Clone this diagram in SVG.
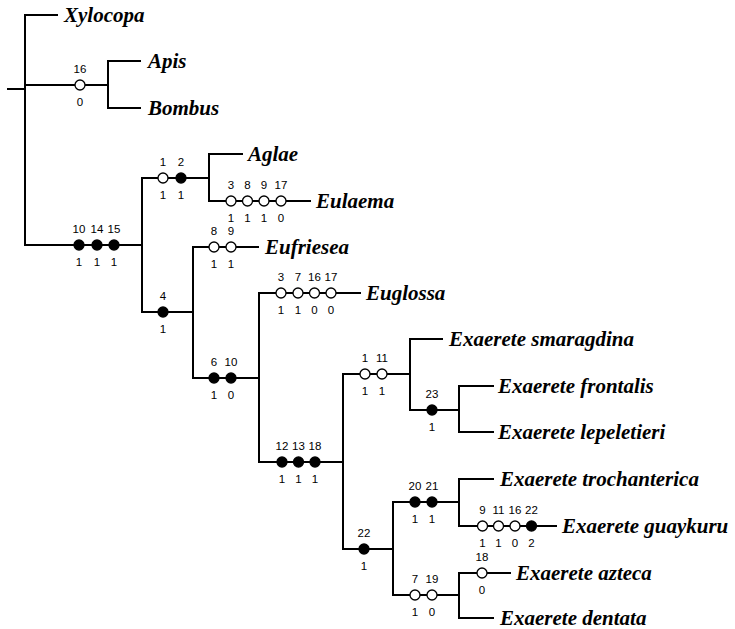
<svg xmlns="http://www.w3.org/2000/svg" width="735" height="629" viewBox="0 0 735 629">
<style>
.sp{font-family:'Liberation Serif','DejaVu Serif',serif;font-weight:700;font-style:italic;font-size:21px;fill:#000}
.n{font-family:'Liberation Sans',Arial,sans-serif;font-size:11.5px;text-anchor:middle;fill:#000}
.o{fill:#fff;stroke:#000;stroke-width:1.3}
.f{fill:#000;stroke:#000;stroke-width:1.3}
#connectors line{stroke:#000;stroke-width:2;stroke-linecap:square}
</style>
<rect width="735" height="629" fill="#fff"/>
<g id="connectors">
<line x1="8" y1="89" x2="25" y2="89"/>
<line x1="25" y1="15" x2="25" y2="245"/>
<line x1="25" y1="15" x2="57" y2="15"/>
<line x1="25" y1="85" x2="108" y2="85"/>
<line x1="108" y1="61" x2="108" y2="108"/>
<line x1="108" y1="61" x2="140" y2="61"/>
<line x1="108" y1="108" x2="140" y2="108"/>
<line x1="25" y1="245" x2="142" y2="245"/>
<line x1="142" y1="178" x2="142" y2="312"/>
<line x1="142" y1="178" x2="209" y2="178"/>
<line x1="209" y1="154" x2="209" y2="201"/>
<line x1="209" y1="154" x2="242" y2="154"/>
<line x1="209" y1="201" x2="310" y2="201"/>
<line x1="142" y1="312" x2="193" y2="312"/>
<line x1="193" y1="247" x2="193" y2="378"/>
<line x1="193" y1="247" x2="258" y2="247"/>
<line x1="193" y1="378" x2="259" y2="378"/>
<line x1="259" y1="293" x2="259" y2="462"/>
<line x1="259" y1="293" x2="360" y2="293"/>
<line x1="259" y1="462" x2="343" y2="462"/>
<line x1="343" y1="374" x2="343" y2="549"/>
<line x1="343" y1="374" x2="410" y2="374"/>
<line x1="410" y1="339" x2="410" y2="410"/>
<line x1="410" y1="339" x2="442" y2="339"/>
<line x1="410" y1="410" x2="459" y2="410"/>
<line x1="459" y1="386" x2="459" y2="432"/>
<line x1="459" y1="386" x2="493" y2="386"/>
<line x1="459" y1="432" x2="493" y2="432"/>
<line x1="343" y1="549" x2="393" y2="549"/>
<line x1="393" y1="502" x2="393" y2="595"/>
<line x1="393" y1="502" x2="459" y2="502"/>
<line x1="459" y1="479" x2="459" y2="526"/>
<line x1="459" y1="479" x2="493" y2="479"/>
<line x1="459" y1="526" x2="556" y2="526"/>
<line x1="393" y1="595" x2="459" y2="595"/>
<line x1="459" y1="573" x2="459" y2="618"/>
<line x1="459" y1="573" x2="510" y2="573"/>
<line x1="459" y1="618" x2="493" y2="618"/>
</g>
<g id="xylocopa"><text class="sp" x="64" y="22">Xylocopa</text></g>
<g id="apis"><text class="sp" x="148" y="68">Apis</text></g>
<g id="bombus"><text class="sp" x="148" y="115">Bombus</text></g>
<g id="aglae"><text class="sp" x="248" y="161">Aglae</text></g>
<g id="eulaema"><text class="sp" x="316" y="208">Eulaema</text></g>
<g id="eufriesea"><text class="sp" x="265" y="254">Eufriesea</text></g>
<g id="euglossa"><text class="sp" x="366" y="300">Euglossa</text></g>
<g id="smaragdina"><text class="sp" x="449" y="346">Exaerete smaragdina</text></g>
<g id="frontalis"><text class="sp" x="498" y="393">Exaerete frontalis</text></g>
<g id="lepeletieri"><text class="sp" x="498" y="439">Exaerete lepeletieri</text></g>
<g id="trochanterica"><text class="sp" x="500" y="486">Exaerete trochanterica</text></g>
<g id="guaykuru"><text class="sp" x="562" y="533">Exaerete guaykuru</text></g>
<g id="azteca"><text class="sp" x="516" y="580">Exaerete azteca</text></g>
<g id="dentata"><text class="sp" x="500" y="625">Exaerete dentata</text></g>
<g id="apis-bombus">
<circle class="o" cx="80" cy="85" r="5"/>
<text class="n" x="80" y="72.5">16</text><text class="n" x="80" y="105.5">0</text>
</g>
<g id="euglossini">
<circle class="f" cx="79" cy="245" r="5"/><circle class="f" cx="97" cy="245" r="5"/><circle class="f" cx="114" cy="245" r="5"/>
<text class="n" x="79" y="232.5">10</text><text class="n" x="97" y="232.5">14</text><text class="n" x="114" y="232.5">15</text>
<text class="n" x="79" y="265.5">1</text><text class="n" x="97" y="265.5">1</text><text class="n" x="114" y="265.5">1</text>
</g>
<g id="aglae-eulaema">
<circle class="o" cx="163" cy="178" r="5"/><circle class="f" cx="181" cy="178" r="5"/>
<text class="n" x="163" y="165.5">1</text><text class="n" x="181" y="165.5">2</text>
<text class="n" x="163" y="198.5">1</text><text class="n" x="181" y="198.5">1</text>
</g>
<g id="eulaema-chars">
<circle class="o" cx="231" cy="201" r="5"/><circle class="o" cx="247.5" cy="201" r="5"/><circle class="o" cx="264" cy="201" r="5"/><circle class="o" cx="281" cy="201" r="5"/>
<text class="n" x="231" y="188.5">3</text><text class="n" x="247.5" y="188.5">8</text><text class="n" x="264" y="188.5">9</text><text class="n" x="281" y="188.5">17</text>
<text class="n" x="231" y="221.5">1</text><text class="n" x="247.5" y="221.5">1</text><text class="n" x="264" y="221.5">1</text><text class="n" x="281" y="221.5">0</text>
</g>
<g id="clade-4">
<circle class="f" cx="163" cy="312" r="5"/>
<text class="n" x="163" y="299.5">4</text><text class="n" x="163" y="332.5">1</text>
</g>
<g id="eufriesea-chars">
<circle class="o" cx="214" cy="247" r="5"/><circle class="o" cx="231" cy="247" r="5"/>
<text class="n" x="214" y="234.5">8</text><text class="n" x="231" y="234.5">9</text>
<text class="n" x="214" y="267.5">1</text><text class="n" x="231" y="267.5">1</text>
</g>
<g id="clade-6-10">
<circle class="f" cx="214" cy="378" r="5"/><circle class="f" cx="231" cy="378" r="5"/>
<text class="n" x="214" y="365.5">6</text><text class="n" x="231" y="365.5">10</text>
<text class="n" x="214" y="398.5">1</text><text class="n" x="231" y="398.5">0</text>
</g>
<g id="euglossa-chars">
<circle class="o" cx="281" cy="293" r="5"/><circle class="o" cx="298" cy="293" r="5"/><circle class="o" cx="314.5" cy="293" r="5"/><circle class="o" cx="331" cy="293" r="5"/>
<text class="n" x="281" y="280.5">3</text><text class="n" x="298" y="280.5">7</text><text class="n" x="314.5" y="280.5">16</text><text class="n" x="331" y="280.5">17</text>
<text class="n" x="281" y="313.5">1</text><text class="n" x="298" y="313.5">1</text><text class="n" x="314.5" y="313.5">0</text><text class="n" x="331" y="313.5">0</text>
</g>
<g id="exaerete">
<circle class="f" cx="282" cy="462" r="5"/><circle class="f" cx="298.5" cy="462" r="5"/><circle class="f" cx="315" cy="462" r="5"/>
<text class="n" x="282" y="449.5">12</text><text class="n" x="298.5" y="449.5">13</text><text class="n" x="315" y="449.5">18</text>
<text class="n" x="282" y="482.5">1</text><text class="n" x="298.5" y="482.5">1</text><text class="n" x="315" y="482.5">1</text>
</g>
<g id="clade-1-11">
<circle class="o" cx="365" cy="374" r="5"/><circle class="o" cx="382" cy="374" r="5"/>
<text class="n" x="365" y="361.5">1</text><text class="n" x="382" y="361.5">11</text>
<text class="n" x="365" y="394.5">1</text><text class="n" x="382" y="394.5">1</text>
</g>
<g id="clade-23">
<circle class="f" cx="432" cy="410" r="5"/>
<text class="n" x="432" y="397.5">23</text><text class="n" x="432" y="430.5">1</text>
</g>
<g id="clade-22">
<circle class="f" cx="364" cy="549" r="5"/>
<text class="n" x="364" y="536.5">22</text><text class="n" x="364" y="569.5">1</text>
</g>
<g id="clade-20-21">
<circle class="f" cx="415" cy="502" r="5"/><circle class="f" cx="432" cy="502" r="5"/>
<text class="n" x="415" y="489.5">20</text><text class="n" x="432" y="489.5">21</text>
<text class="n" x="415" y="522.5">1</text><text class="n" x="432" y="522.5">1</text>
</g>
<g id="guaykuru-chars">
<circle class="o" cx="482.5" cy="526" r="5"/><circle class="o" cx="498.5" cy="526" r="5"/><circle class="o" cx="515" cy="526" r="5"/><circle class="f" cx="531.5" cy="526" r="5"/>
<text class="n" x="482.5" y="513.5">9</text><text class="n" x="498.5" y="513.5">11</text><text class="n" x="515" y="513.5">16</text><text class="n" x="531.5" y="513.5">22</text>
<text class="n" x="482.5" y="546.5">1</text><text class="n" x="498.5" y="546.5">1</text><text class="n" x="515" y="546.5">0</text><text class="n" x="531.5" y="546.5">2</text>
</g>
<g id="clade-7-19">
<circle class="o" cx="415" cy="595" r="5"/><circle class="o" cx="432" cy="595" r="5"/>
<text class="n" x="415" y="582.5">7</text><text class="n" x="432" y="582.5">19</text>
<text class="n" x="415" y="615.5">1</text><text class="n" x="432" y="615.5">0</text>
</g>
<g id="azteca-chars">
<circle class="o" cx="482" cy="573" r="5"/>
<text class="n" x="482" y="560.5">18</text><text class="n" x="482" y="593.5">0</text>
</g>
</svg>
